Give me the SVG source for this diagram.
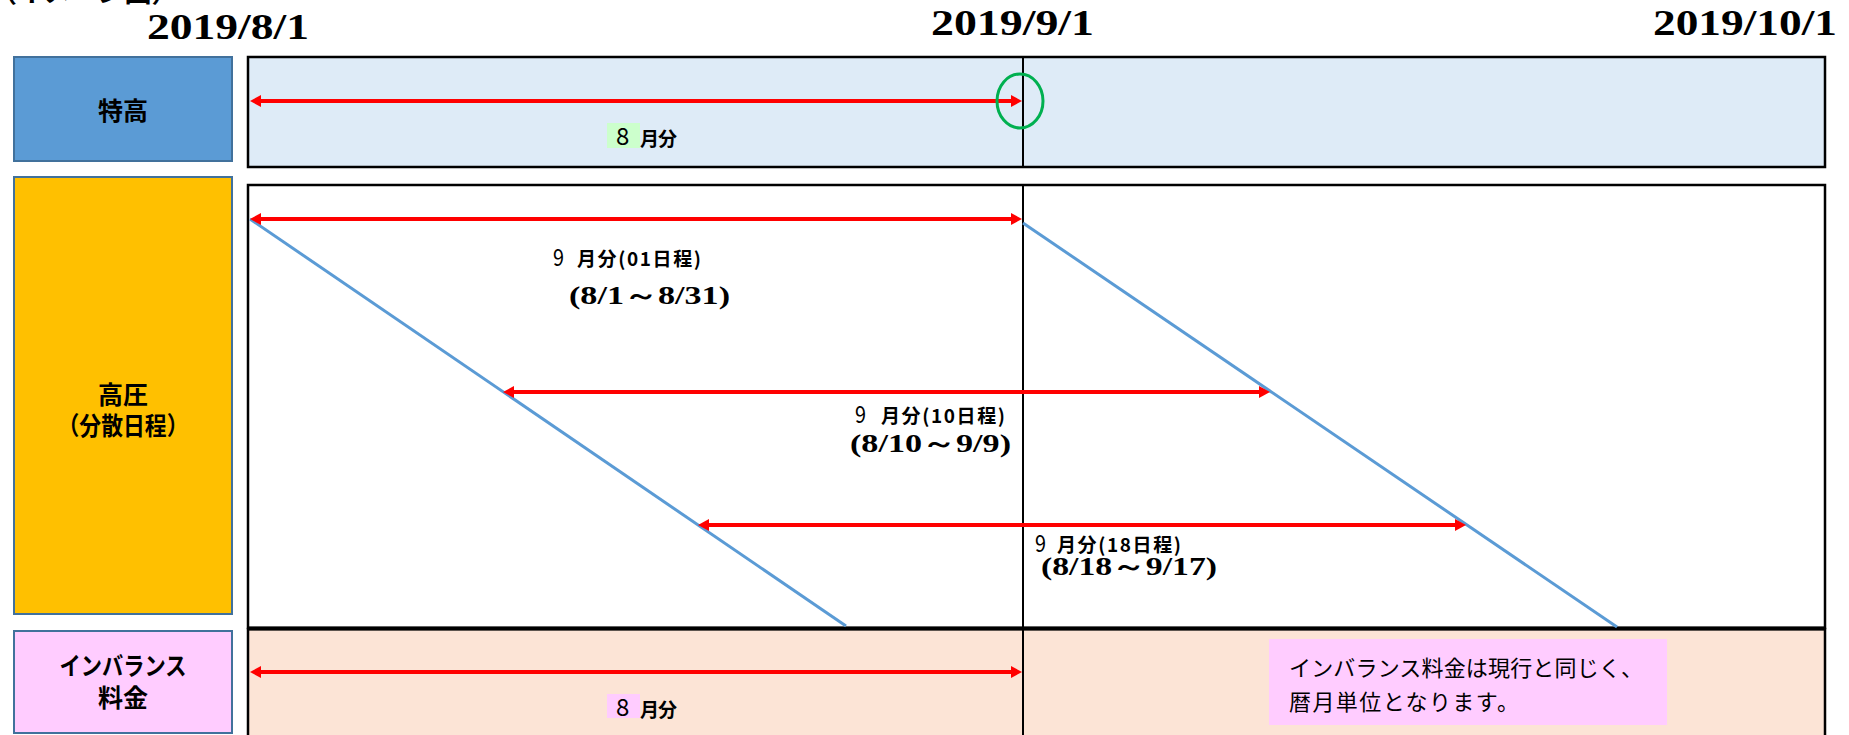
<svg xmlns="http://www.w3.org/2000/svg" width="1849" height="735" viewBox="0 0 1849 735">
<style>
.date{font-family:"Liberation Serif",serif;font-weight:bold;font-size:36px;fill:#000}
.lbl{font-family:"Noto Sans CJK JP",sans-serif;font-weight:bold;font-size:25px;text-anchor:middle;fill:#000}
.sm{font-family:"Noto Sans CJK JP",sans-serif;font-weight:bold;font-size:19px;fill:#000}
.num{font-family:"Noto Sans CJK JP",sans-serif;font-size:24px;fill:#000}
.rng{font-family:"Liberation Serif",serif;font-weight:bold;font-size:26px;fill:#000}
.call{font-family:"Noto Sans CJK JP",sans-serif;font-size:22px;fill:#000}
.arrow{stroke:#FF0000;stroke-width:4;fill:none;marker-start:url(#ah);marker-end:url(#ah)}
.diag{stroke:#5B9BD5;stroke-width:3;fill:none}
.node{stroke:#41719C;stroke-width:2}
.row{stroke:#000;stroke-width:2.5}
.vl{stroke:#000;stroke-width:2}
</style>
<defs>
<marker id="ah" markerUnits="userSpaceOnUse" markerWidth="12" markerHeight="12" refX="3" refY="6" orient="auto-start-reverse">
<path d="M0,0 L11,6 L0,12 z" fill="#FF0000"/>
</marker>
</defs>
<rect x="0" y="0" width="1849" height="735" fill="#fff"/>
<text x="-10" y="2" font-family="Noto Sans CJK JP, sans-serif" font-weight="bold" font-size="27">（イメージ図）</text>
<g id="dates">
<text class="date" x="147" y="39" textLength="162" lengthAdjust="spacingAndGlyphs">2019/8/1</text>
<text class="date" x="931" y="35" textLength="163" lengthAdjust="spacingAndGlyphs">2019/9/1</text>
<text class="date" x="1653" y="35" textLength="184" lengthAdjust="spacingAndGlyphs">2019/10/1</text>
</g>
<g id="rows">
<rect class="row" x="248" y="57" width="1577" height="110" fill="#DEEBF7"/>
<rect class="row" x="248" y="185" width="1577" height="443" fill="#FFFFFF"/>
<rect class="row" x="248" y="629" width="1577" height="130" fill="#FCE4D6"/>
<line x1="248" y1="628.5" x2="1825" y2="628.5" stroke="#000" stroke-width="4"/>
<line class="vl" x1="1023" y1="57" x2="1023" y2="167"/>
<line class="vl" x1="1023" y1="185" x2="1023" y2="628"/>
<line class="vl" x1="1023" y1="630" x2="1023" y2="735"/>
</g>
<g id="node-tokkou">
<rect class="node" x="14" y="57" width="218" height="104" fill="#5B9BD5"/>
<text class="lbl" x="123" y="120">特高</text>
</g>
<g id="node-kouatsu">
<rect class="node" x="14" y="177" width="218" height="437" fill="#FFC000"/>
<text class="lbl" x="123" y="404">高圧</text>
<text class="lbl" x="123" y="435" textLength="131" lengthAdjust="spacingAndGlyphs">（分散日程）</text>
</g>
<g id="node-imbalance">
<rect class="node" x="14" y="631" width="218" height="102" fill="#FFCCFF"/>
<text class="lbl" x="123" y="675" textLength="127" lengthAdjust="spacingAndGlyphs">インバランス</text>
<text class="lbl" x="123" y="707">料金</text>
</g>
<g id="connectors">
<line class="diag" x1="250" y1="219" x2="846" y2="626"/>
<line class="diag" x1="1023" y1="223" x2="1617" y2="627"/>
<line class="arrow" x1="258" y1="101" x2="1014" y2="101"/>
<line class="arrow" x1="258" y1="219" x2="1014" y2="219"/>
<line class="arrow" x1="511" y1="392" x2="1262" y2="392"/>
<line class="arrow" x1="706" y1="525" x2="1458" y2="525"/>
<line class="arrow" x1="258" y1="672" x2="1014" y2="672"/>
<ellipse cx="1020" cy="101" rx="23" ry="27" fill="none" stroke="#00B050" stroke-width="3"/>
</g>
<g id="labels">
<rect x="607" y="123" width="33" height="25" fill="#CCFFCC"/>
<text class="num" x="616" y="145" font-size="23">8</text>
<text class="sm" x="640" y="146" textLength="37">月分</text>
<text class="num" x="553" y="266" textLength="11" lengthAdjust="spacingAndGlyphs">9</text>
<text class="sm" x="577" y="266" textLength="124">月分(01日程)</text>
<text class="rng" x="569" y="304" textLength="161" lengthAdjust="spacingAndGlyphs">(8/1～8/31)</text>
<text class="num" x="855" y="423" textLength="11" lengthAdjust="spacingAndGlyphs">9</text>
<text class="sm" x="881" y="423" textLength="124">月分(10日程)</text>
<text class="rng" x="850" y="452" textLength="161" lengthAdjust="spacingAndGlyphs">(8/10～9/9)</text>
<text class="num" x="1035" y="552" textLength="11" lengthAdjust="spacingAndGlyphs">9</text>
<text class="sm" x="1057" y="552" textLength="124">月分(18日程)</text>
<text class="rng" x="1041" y="575" textLength="176" lengthAdjust="spacingAndGlyphs">(8/18～9/17)</text>
<rect x="607" y="694" width="33" height="24" fill="#FFCCFF"/>
<text class="num" x="616" y="716" font-size="23">8</text>
<text class="sm" x="640" y="717" textLength="37">月分</text>
</g>
<g id="callout">
<rect x="1269" y="639" width="398" height="86" fill="#FFCCFF"/>
<text class="call" x="1289" y="676" textLength="354">インバランス料金は現行と同じく、</text>
<text class="call" x="1289" y="710" textLength="230">暦月単位となります。</text>
</g>
</svg>
